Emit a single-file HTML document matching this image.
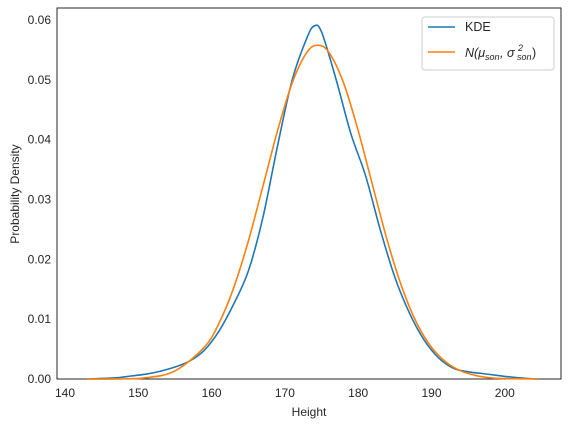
<!DOCTYPE html>
<html><head><meta charset="utf-8"><style>
body{margin:0;background:#fff;font-family:"Liberation Sans",sans-serif;}
svg text{font-family:"Liberation Sans",sans-serif;fill:#262626;}
</style></head><body>
<svg id="chart" width="570" height="429">
<rect x="57" y="8" width="504" height="371" fill="#fff" stroke="#262626" stroke-width="1"/>
<g id="ticks"></g>
<path id="kde" fill="none" stroke="#1f77b4" stroke-width="1.6"/>
<path id="norm" fill="none" stroke="#ff7f0e" stroke-width="1.6"/>
<text x="309" y="416" font-size="12" text-anchor="middle">Height</text>
<text x="19" y="194" font-size="12" text-anchor="middle" transform="rotate(-90 19 194)">Probability Density</text>
<g>
<rect x="422" y="17" width="132" height="53" rx="3" fill="#fff" stroke="#ccc"/>
<line x1="428" y1="27" x2="455" y2="27" stroke="#1f77b4" stroke-width="1.6"/>
<text x="465" y="31" font-size="12.5">KDE</text>
<line x1="428" y1="52" x2="455" y2="52" stroke="#ff7f0e" stroke-width="1.6"/>
<g font-size="12.5" font-style="italic">
<text x="465" y="57">N(μ</text>
<text x="485" y="60" font-size="9">son</text>
<text x="500" y="57">, σ</text>
<text x="518" y="51" font-size="9">2</text>
<text x="517" y="60" font-size="9">son</text>
<text x="532" y="57" font-style="normal">)</text>
</g>
</g>
</svg>
<script>
const xTicks=[140,150,160,170,180,190,200];
const yTicks=[0,0.01,0.02,0.03,0.04,0.05,0.06];
const yTickLabels=["0.00","0.01","0.02","0.03","0.04","0.05","0.06"];
const kdeX=[143,145,147,149,151,153,155,157,159,161,163,165,167,169,171,173,174,175,177,179,181,183,185,187,189,191,193,195,197,199,201,203,204.5];
const kdeY=[0,0.0001,0.0002,0.0005,0.0008,0.0013,0.002,0.003,0.0048,0.008,0.0125,0.018,0.027,0.039,0.05,0.057,0.059,0.058,0.05,0.041,0.034,0.025,0.017,0.011,0.0065,0.0035,0.0018,0.0012,0.0009,0.0006,0.0003,0.0001,0];
const normX=[143,147,151,155,159,161,163,165,167,169,171,173,174.5,176,178,180,182,184,186,188,190,192,194,196,198,200,204.5];
const normY=[0,0.00001,0.0002,0.00135,0.0053,0.0093,0.0152,0.023,0.0322,0.0415,0.0495,0.0546,0.0558,0.0546,0.0495,0.0415,0.0322,0.023,0.0152,0.0093,0.0053,0.0028,0.00135,0.0006,0.0002,0.00007,0];
const sx=v=>65+(v-140)*7.33;
const sy=v=>379-v*5983;
const ns="http://www.w3.org/2000/svg";
const g=document.getElementById('ticks');
xTicks.forEach(t=>{const e=document.createElementNS(ns,'text');e.setAttribute('x',sx(t));e.setAttribute('y',397);e.setAttribute('font-size','12');e.setAttribute('text-anchor','middle');e.textContent=t;


g.appendChild(e);});
yTicks.forEach((t,i)=>{const e=document.createElementNS(ns,'text');e.setAttribute('x',51);e.setAttribute('y',sy(t)+4);e.setAttribute('font-size','12');e.setAttribute('text-anchor','end');e.textContent=yTickLabels[i];


g.appendChild(e);});
function smooth(xs,ys){const p=xs.map((x,i)=>[sx(x),sy(ys[i])]);let d='M'+p[0][0]+','+p[0][1];
for(let i=0;i<p.length-1;i++){const p0=p[i-1]||p[i],p1=p[i],p2=p[i+1],p3=p[i+2]||p2;
d+=` C${p1[0]+(p2[0]-p0[0])/6},${p1[1]+(p2[1]-p0[1])/6} ${p2[0]-(p3[0]-p1[0])/6},${p2[1]-(p3[1]-p1[1])/6} ${p2[0]},${p2[1]}`;}return d;}
document.getElementById('kde').setAttribute('d',smooth(kdeX,kdeY));
document.getElementById('norm').setAttribute('d',smooth(normX,normY));
</script>
</body></html>
